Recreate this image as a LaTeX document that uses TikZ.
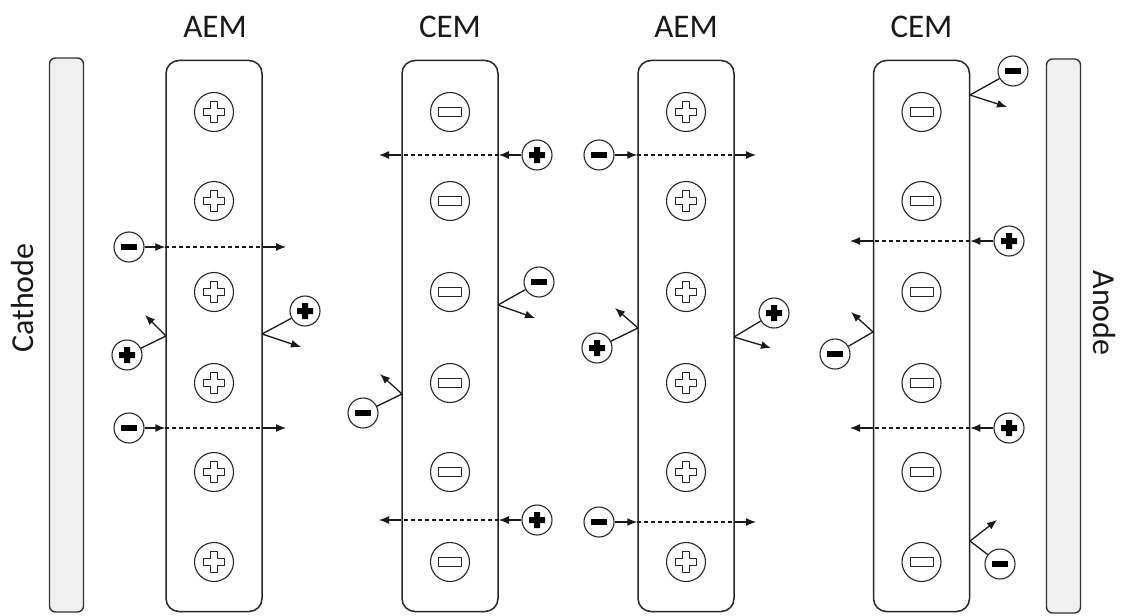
\documentclass[tikz,border=0pt]{standalone}
\usepackage{fontspec}
\setmainfont{Carlito}
\usetikzlibrary{arrows.meta}

\begin{document}
\begin{tikzpicture}[x=1pt,y=-1pt,
  line join=round,
  membrane/.style={draw=black!85, fill=white, rounded corners=13pt, line width=1.5pt,
    minimum width=96pt, minimum height=551pt, inner sep=0pt},
  electrode/.style={draw=black!80, fill=black!6, rounded corners=6pt, line width=1.4pt,
    minimum width=34pt, minimum height=554pt, inner sep=0pt},
  title/.style={font=\fontsize{33}{38}\selectfont, text=black!90},
  side/.style={font=\fontsize{32}{38}\selectfont, text=black!90},
  fixedion/.style={circle, draw=black!85, line width=1.1pt, minimum size=39pt, inner sep=0pt},
  fixedplus/.style={fixedion, path picture={
    \draw[line width=1pt] (path picture bounding box.center) ++(-3.8,-10.5)
      -- ++(7.6,0) -- ++(0,6.7) -- ++(6.7,0) -- ++(0,7.6) -- ++(-6.7,0) -- ++(0,6.7)
      -- ++(-7.6,0) -- ++(0,-6.7) -- ++(-6.7,0) -- ++(0,-7.6) -- ++(6.7,0) -- cycle;}},
  fixedminus/.style={fixedion, path picture={
    \draw[line width=1pt] (path picture bounding box.center) ++(-11.5,-4.2) rectangle ++(23,8.4);}},
  mobile/.style={circle, draw=black!85, line width=1.1pt, minimum size=30pt, inner sep=0pt},
  ionplus/.style={mobile, path picture={
    \fill (path picture bounding box.center) ++(-3,-8)
      -- ++(6,0) -- ++(0,5) -- ++(5,0) -- ++(0,6) -- ++(-5,0) -- ++(0,5)
      -- ++(-6,0) -- ++(0,-5) -- ++(-5,0) -- ++(0,-6) -- ++(5,0) -- cycle;}},
  ionminus/.style={mobile, path picture={
    \fill (path picture bounding box.center) ++(-8,-2.8) rectangle ++(16,5.6);}},
  flow/.style={draw=black!90, line width=1.3pt, -{Latex[length=10pt,width=8pt]}},
  pass/.style={draw=black!90, line width=1.3pt, dash pattern=on 4pt off 3pt},
  bounce/.style={draw=black!90, line width=1.3pt}
]
\useasboundingbox (0,0) rectangle (1123,615);

% electrodes
\node[electrode] (cathode) at (66.5,335) {};
\node[electrode] (anode) at (1063.5,336) {};
\node[side, rotate=90] (cathodelbl) at (23,298) {Cathode};
\node[side, rotate=-90] (anodelbl) at (1104,313) {Anode};

% membranes
\node[membrane] (m1) at (214,336) {};
\node[membrane] (m2) at (450,336) {};
\node[membrane] (m3) at (686,336) {};
\node[membrane] (m4) at (921.5,336) {};
\node[title] (t1) at (215,27) {AEM};
\node[title] (t2) at (450,27) {CEM};
\node[title] (t3) at (686,27) {AEM};
\node[title] (t4) at (921.5,27) {CEM};

% fixed charges
\foreach \y [count=\i] in {112,201,292,383,472,562} {
  \node[fixedplus]  (p1\i) at (214,\y) {};
  \node[fixedminus] (n2\i) at (450,\y) {};
  \node[fixedplus]  (p3\i) at (686,\y) {};
  \node[fixedminus] (n4\i) at (921.5,\y) {};
}

% ---- first AEM: anions pass, cations rejected
\node[ionminus] (a1) at (129,247) {};
\coordinate (a1e) at (286,247);
\draw[flow] (a1) -- (m1.west |- a1);
\draw[pass] (m1.west |- a1) -- (m1.east |- a1);
\draw[flow] (m1.east |- a1) -- (a1e);

\node[ionminus] (a2) at (129,428) {};
\coordinate (a2e) at (286,428);
\draw[flow] (a2) -- (m1.west |- a2);
\draw[pass] (m1.west |- a2) -- (m1.east |- a2);
\draw[flow] (m1.east |- a2) -- (a2e);

\node[ionplus] (c1) at (127,355) {};
\coordinate (c1h) at (166,336);
\coordinate (c1e) at (145,315);
\draw[bounce] (c1) -- (c1h);
\draw[flow] (c1h) -- (c1e);

\node[ionplus] (c2) at (305,311) {};
\coordinate (c2h) at (262,334);
\coordinate (c2e) at (301,347);
\draw[bounce] (c2) -- (c2h);
\draw[flow] (c2h) -- (c2e);

% ---- first CEM: cations pass, anions rejected
\node[ionplus] (c3) at (537,155) {};
\coordinate (c3e) at (379,155);
\draw[flow] (c3) -- (m2.east |- c3);
\draw[pass] (m2.east |- c3) -- (m2.west |- c3);
\draw[flow] (m2.west |- c3) -- (c3e);

\node[ionplus] (c4) at (537,520) {};
\coordinate (c4e) at (379,520);
\draw[flow] (c4) -- (m2.east |- c4);
\draw[pass] (m2.east |- c4) -- (m2.west |- c4);
\draw[flow] (m2.west |- c4) -- (c4e);

\node[ionminus] (a3) at (539,282) {};
\coordinate (a3h) at (498,305);
\coordinate (a3e) at (535,318);
\draw[bounce] (a3) -- (a3h);
\draw[flow] (a3h) -- (a3e);

\node[ionminus] (a4) at (363,413) {};
\coordinate (a4h) at (402,394);
\coordinate (a4e) at (380,374);
\draw[bounce] (a4) -- (a4h);
\draw[flow] (a4h) -- (a4e);

% ---- second AEM
\node[ionminus] (a5) at (599,155) {};
\coordinate (a5e) at (756,155);
\draw[flow] (a5) -- (m3.west |- a5);
\draw[pass] (m3.west |- a5) -- (m3.east |- a5);
\draw[flow] (m3.east |- a5) -- (a5e);

\node[ionminus] (a6) at (599,522) {};
\coordinate (a6e) at (756,522);
\draw[flow] (a6) -- (m3.west |- a6);
\draw[pass] (m3.west |- a6) -- (m3.east |- a6);
\draw[flow] (m3.east |- a6) -- (a6e);

\node[ionplus] (c5) at (597,348) {};
\coordinate (c5h) at (638,328);
\coordinate (c5e) at (615,308);
\draw[bounce] (c5) -- (c5h);
\draw[flow] (c5h) -- (c5e);

\node[ionplus] (c6) at (774,313) {};
\coordinate (c6h) at (734,337);
\coordinate (c6e) at (771,348);
\draw[bounce] (c6) -- (c6h);
\draw[flow] (c6h) -- (c6e);

% ---- second CEM
\node[ionplus] (c7) at (1009,241) {};
\coordinate (c7e) at (850,241);
\draw[flow] (c7) -- (m4.east |- c7);
\draw[pass] (m4.east |- c7) -- (m4.west |- c7);
\draw[flow] (m4.west |- c7) -- (c7e);

\node[ionplus] (c8) at (1009,428) {};
\coordinate (c8e) at (850,428);
\draw[flow] (c8) -- (m4.east |- c8);
\draw[pass] (m4.east |- c8) -- (m4.west |- c8);
\draw[flow] (m4.west |- c8) -- (c8e);

\node[ionminus] (a7) at (1013,71) {};
\coordinate (a7h) at (970,95);
\coordinate (a7e) at (1007,107);
\draw[bounce] (a7) -- (a7h);
\draw[flow] (a7h) -- (a7e);

\node[ionminus] (a8) at (835,354) {};
\coordinate (a8h) at (873,332);
\coordinate (a8e) at (851,312);
\draw[bounce] (a8) -- (a8h);
\draw[flow] (a8h) -- (a8e);

\node[ionminus] (a9) at (1000,564) {};
\coordinate (a9h) at (970,541);
\coordinate (a9e) at (997,520);
\draw[bounce] (a9) -- (a9h);
\draw[flow] (a9h) -- (a9e);
\end{tikzpicture}
\end{document}
